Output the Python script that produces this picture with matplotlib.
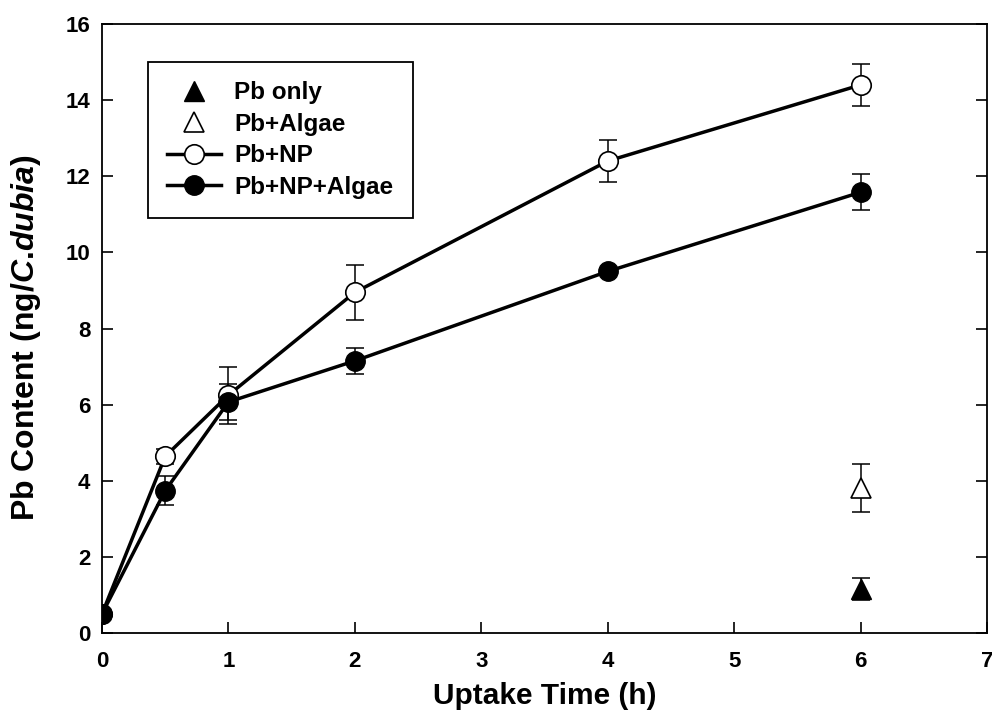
import matplotlib
matplotlib.use("Agg")
import matplotlib.pyplot as plt

plt.rcParams['font.family'] = ['Liberation Sans', 'DejaVu Sans']
plt.rcParams['mathtext.fontset'] = 'custom'
plt.rcParams['mathtext.rm'] = 'Liberation Sans:bold'
plt.rcParams['mathtext.it'] = 'Liberation Sans:bold:italic'

# uptake time (h)
time_h = [0, 0.5, 1, 2, 4, 6]

# Pb+NP
np_mean = [0.5, 4.64, 6.25, 8.95, 12.4, 14.4]
np_err = [0.05, 0.2, 0.75, 0.72, 0.55, 0.55]

# Pb+NP+Algae
npa_mean = [0.5, 3.74, 6.07, 7.15, 9.5, 11.58]
npa_err = [0.05, 0.38, 0.48, 0.35, 0.08, 0.47]

# single points at 6 h
pb_only_t = [6]
pb_only = [1.16]
pb_only_err = [0.29]
pb_algae_t = [6]
pb_algae = [3.8]
pb_algae_err = [0.63]

fig = plt.figure(figsize=(9.92, 7.28), dpi=100)
ax = fig.add_axes([0.1028, 0.1305, 0.8922, 0.8365])

ms = 14
eb = dict(ecolor='black', elinewidth=1.1, capsize=6.8, capthick=1.1)

ax.errorbar(time_h, np_mean, yerr=np_err, fmt='none', zorder=2, **eb)
ax.errorbar(time_h, npa_mean, yerr=npa_err, fmt='none', zorder=2, **eb)
ax.errorbar(pb_only_t, pb_only, yerr=pb_only_err, fmt='none', zorder=2, **eb)
ax.errorbar(pb_algae_t, pb_algae, yerr=pb_algae_err, fmt='none', zorder=2, **eb)

ax.plot(pb_only_t, pb_only, '^', color='black', ms=ms, zorder=4, label='Pb only')
ax.plot(pb_algae_t, pb_algae, '^', mfc='white', mec='black', mew=1.2, ms=ms + 1,
        zorder=4, label='Pb+Algae')
ax.plot(time_h, np_mean, '-o', color='black', lw=2.5, mfc='white', mec='black',
        mew=1.2, ms=ms, zorder=3, label='Pb+NP')
ax.plot(time_h, npa_mean, '-o', color='black', lw=2.5, mfc='black', mec='black',
        ms=ms, zorder=4, label='Pb+NP+Algae')

ax.set_xlim(0, 7)
ax.set_ylim(0, 16)
ax.set_xticks(range(0, 8))
ax.set_yticks(range(0, 17, 2))
ax.tick_params(direction='in', length=8, width=1.2, labelsize=16, right=True)
ax.tick_params(axis='x', pad=13)
ax.tick_params(axis='y', pad=8.5)
for lab in ax.get_xticklabels() + ax.get_yticklabels():
    lab.set_fontweight('bold')
for sp in ax.spines.values():
    sp.set_linewidth(1.3)

ax.set_xlabel('Uptake Time (h)', fontsize=21.5, fontweight='bold', labelpad=7)
ax.set_ylabel('Pb Content (ng/$\\it{C}$.$\\it{dubia}$)', fontsize=23,
              fontweight='bold')
ax.yaxis.set_label_coords(-0.067, 0.485)

leg = ax.legend(loc='upper left', bbox_to_anchor=(0.052, 0.9376),
                borderaxespad=0, prop={'weight': 'bold', 'size': 17.5},
                handlelength=2.2, labelspacing=0.35, borderpad=0.8,
                fancybox=False, edgecolor='black', framealpha=1,
                handletextpad=0.55, markerscale=1.0)
leg.get_frame().set_linewidth(1.3)

fig.savefig('out.png', dpi=100)
